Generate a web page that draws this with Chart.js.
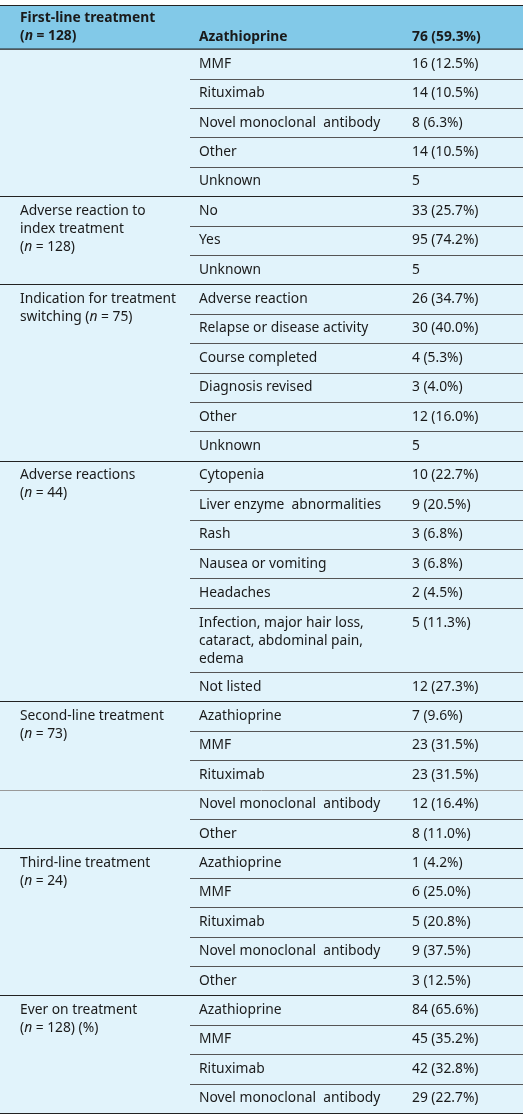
<!DOCTYPE html>
<html><head><meta charset="utf-8">
<script src="https://cdn.jsdelivr.net/npm/chart.js@4"></script>
<style>html,body{margin:0;padding:0;background:#fff}#c{display:block}</style>
</head><body>
<div style="width:523px;height:1115px"><canvas id="c"></canvas></div>
<script>
const headerLabel = ["First-line treatment", "(*n* = 128)"];
const headerName = "Azathioprine";
const headerValue = "76 (59.3%)";

const groupLabels = [
  [],
  ["Adverse reaction to", "index treatment", "(*n* = 128)"],
  ["Indication for treatment", "switching (*n* = 75)"],
  ["Adverse reactions", "(*n* = 44)"],
  ["Second-line treatment", "(*n* = 73)"],
  [],
  ["Third-line treatment", "(*n* = 24)"],
  ["Ever on treatment", "(*n* = 128) (%)"]
];
const groupNames = [
  ["MMF", "Rituximab", "Novel monoclonal  antibody", "Other", "Unknown"],
  ["No", "Yes", "Unknown"],
  ["Adverse reaction", "Relapse or disease activity", "Course completed", "Diagnosis revised", "Other", "Unknown"],
  ["Cytopenia", "Liver enzyme  abnormalities", "Rash", "Nausea or vomiting", "Headaches", "Infection, major hair loss,\ncataract, abdominal pain,\nedema", "Not listed"],
  ["Azathioprine", "MMF", "Rituximab"],
  ["Novel monoclonal  antibody", "Other"],
  ["Azathioprine", "MMF", "Rituximab", "Novel monoclonal  antibody", "Other"],
  ["Azathioprine", "MMF", "Rituximab", "Novel monoclonal  antibody"]
];
const groupValues = [
  ["16 (12.5%)", "14 (10.5%)", "8 (6.3%)", "14 (10.5%)", "5"],
  ["33 (25.7%)", "95 (74.2%)", "5"],
  ["26 (34.7%)", "30 (40.0%)", "4 (5.3%)", "3 (4.0%)", "12 (16.0%)", "5"],
  ["10 (22.7%)", "9 (20.5%)", "3 (6.8%)", "3 (6.8%)", "2 (4.5%)", "5 (11.3%)", "12 (27.3%)"],
  ["7 (9.6%)", "23 (31.5%)", "23 (31.5%)"],
  ["12 (16.4%)", "8 (11.0%)"],
  ["1 (4.2%)", "6 (25.0%)", "5 (20.8%)", "9 (37.5%)", "3 (12.5%)"],
  ["84 (65.6%)", "45 (35.2%)", "42 (32.8%)", "29 (22.7%)"]
];
const colX = [20, 199, 412];
const HEADER_UNITS = 1.5;
const LINE_PX = 18;

function rowUnits(name){ const n = name.split("\n").length; return n === 1 ? 1 : 0.2 + n * 0.66; }
const total = groupNames.reduce((s,g)=>s+g.reduce((a,n)=>a+rowUnits(n),0),0);

const FONT = '"Noto Sans", sans-serif';
function drawRich(ctx, text, x, y, bold){
  const parts = text.split("*");
  let cx = x;
  parts.forEach((p,i)=>{
    ctx.font = (i%2 ? "italic " : "") + (bold ? "bold " : "") + "13.8px " + FONT;
    ctx.fillText(p, cx, y);
    cx += ctx.measureText(p).width;
  });
}

const tablePlugin = {
  id: 'table',
  beforeDraw(chart){
    const ctx = chart.ctx, xs = chart.scales.x, ys = chart.scales.y;
    const L = xs.getPixelForValue(0), R = xs.getPixelForValue(523);
    const top = ys.getPixelForValue(-HEADER_UNITS), h0 = ys.getPixelForValue(0), bot = ys.getPixelForValue(total);
    ctx.save();
    ctx.fillStyle = "#82c9e8"; ctx.fillRect(L, top, R-L, h0-top);
    ctx.fillStyle = "#e1f3fb"; ctx.fillRect(L, h0, R-L, bot-h0);
    ctx.fillStyle = "#1a1a1a"; ctx.textBaseline = "middle";
    drawRich(ctx, headerLabel[0], colX[0], top + 13.5, true);
    drawRich(ctx, headerLabel[1], colX[0], top + 31.5, true);
    drawRich(ctx, headerName, colX[1], top + 32, true);
    drawRich(ctx, headerValue, colX[2], top + 32, true);
    ctx.strokeStyle = "#222"; ctx.lineWidth = 1.2;
    ctx.beginPath(); ctx.moveTo(L, top+0.5); ctx.lineTo(R, top+0.5); ctx.stroke();
    ctx.beginPath(); ctx.moveTo(L, h0); ctx.lineTo(R, h0); ctx.stroke();
    let u = 0;
    groupNames.forEach((rows, gi)=>{
      const firstMid = ys.getPixelForValue(u + 0.5);
      ctx.fillStyle = "#1a1a1a";
      groupLabels[gi].forEach((ln, li)=> drawRich(ctx, ln, colX[0], firstMid + li*LINE_PX, false));
      rows.forEach((name, ri)=>{
        const ru = rowUnits(name);
        const rTop = ys.getPixelForValue(u);
        const lines = name.split("\n");
        const y0 = lines.length === 1 ? ys.getPixelForValue(u + 0.5) : rTop + 15;
        ctx.fillStyle = "#1a1a1a";
        lines.forEach((ln, li)=> drawRich(ctx, ln, colX[1], y0 + li*LINE_PX, false));
        drawRich(ctx, groupValues[gi][ri], colX[2], y0, false);
        if (ri > 0){
          ctx.strokeStyle = "#555"; ctx.lineWidth = 1;
          ctx.beginPath(); ctx.moveTo(190, Math.round(rTop)+0.5); ctx.lineTo(R, Math.round(rTop)+0.5); ctx.stroke();
        }
        u += ru;
      });
      const gBot = ys.getPixelForValue(u);
      ctx.strokeStyle = gi === 4 ? "#999" : "#222"; ctx.lineWidth = gi === 4 ? 1 : 1.2;
      ctx.beginPath(); ctx.moveTo(L, Math.round(gBot)+0.5); ctx.lineTo(R, Math.round(gBot)+0.5); ctx.stroke();
    });
    ctx.restore();
  }
};

new Chart(document.getElementById('c'), {
  type: 'scatter',
  data: { datasets: [{ data: [] }] },
  options: {
    responsive: true, maintainAspectRatio: false, animation: false,
    layout: { padding: { top: 5, bottom: 2, left: 0, right: 0 } },
    plugins: { legend: { display: false }, tooltip: { enabled: false } },
    scales: {
      x: { display: false, min: 0, max: 523 },
      y: { display: false, min: -HEADER_UNITS, max: total, reverse: true }
    }
  },
  plugins: [tablePlugin]
});
</script>
</body></html>
